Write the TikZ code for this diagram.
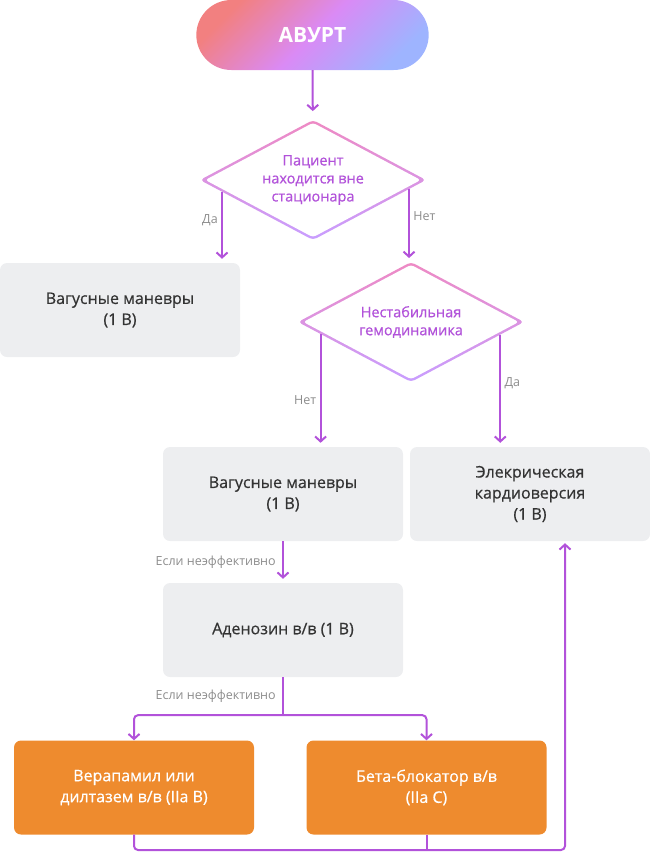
\documentclass[tikz,border=0pt]{standalone}
\usepackage{fontspec}
\setmainfont{Open Sans}
\newfontfamily\medfont{Open Sans}[FakeBold=0.6]
\usepackage{tikz}
\usetikzlibrary{shapes.geometric}
\usetikzlibrary{shapes.misc}
\usetikzlibrary{calc}
\usetikzlibrary{backgrounds}
\usetikzlibrary{positioning}
\usetikzlibrary{arrows.meta}
\definecolor{flowpurple}{RGB}{178,82,218}
\definecolor{boxgray}{RGB}{237,238,240}
\definecolor{boxtext}{RGB}{51,51,51}
\definecolor{labelgray}{RGB}{140,140,140}
\definecolor{boxorange}{RGB}{238,139,46}
\definecolor{pillsalmon}{RGB}{242,128,128}
\definecolor{pillpink}{RGB}{218,138,245}
\definecolor{pillblue}{RGB}{158,180,255}
\definecolor{ringpink}{RGB}{238,138,196}
\definecolor{ringlilac}{RGB}{200,158,255}
\tikzset{
	graybox/.style={rectangle,rounded corners=7pt,fill=boxgray,minimum width=240pt,minimum height=94pt,align=center,text=boxtext,font=\medfont\fontsize{16}{21}\selectfont},
	orangebox/.style={graybox,fill=boxorange,text=white},
	startpill/.style={rounded rectangle,minimum width=239pt,minimum height=70pt,top color=pillsalmon,bottom color=pillblue,middle color=pillpink,shading angle=45,text=white,font=\fontsize{21}{25}\selectfont\bfseries},
	decision/.style={diamond,minimum width=226pt,minimum height=120pt,aspect=1.9,inner sep=0pt,outer sep=0pt,align=center,text=flowpurple,font=\medfont\fontsize{14.5}{18}\selectfont},
	flow/.style={draw=flowpurple,line width=2pt,-{Straight Barb[length=5pt,width=11pt]}},
	line/.style={draw=flowpurple,line width=2pt},
	lbl/.style={text=labelgray,font=\fontsize{12.5}{15}\selectfont}
}
\newcommand\decisionring[1]{
	\begin{pgfonlayer}{background}
		\shade[top color=ringpink,bottom color=ringlilac,rounded corners=4pt] (#1.north) -- (#1.east) -- (#1.south) -- (#1.west) -- cycle;
		\fill[white,rounded corners=3pt] ($(#1.north)+(0,2.8)$) -- ($(#1.east)+(-5.3,0)$) -- ($(#1.south)+(0,-2.8)$) -- ($(#1.west)+(5.3,0)$) -- cycle;
	\end{pgfonlayer}
}
\begin{document}
\begin{tikzpicture}[x=1pt,y=-1pt]
	\useasboundingbox (0,0) rectangle (650,852);
	\node[startpill] (avrt) at (312.5,35) {АВУРТ};
	\node[decision] (outside) at (313,180) {Пациент\\находится вне\\стационара};
	\decisionring{outside}
	\node[graybox] (vagal1) at (120,310) {Вагусные маневры\\(1 B)};
	\node[decision] (unstable) at (411,322) {Нестабильная\\гемодинамика};
	\decisionring{unstable}
	\node[graybox] (vagal2) at (283,494) {Вагусные маневры\\(1 B)};
	\node[graybox] (cardio) at (530,494) {Элекрическая\\кардиоверсия\\(1 B)};
	\node[graybox] (adeno) at (283,630) {Аденозин в/в (1 B)};
	\node[orangebox] (verap) at (134,787.5) {Верапамил или\\дилтазем в/в (IIa B)};
	\node[orangebox] (beta) at (426.5,787.5) {Бета-блокатор в/в\\(IIa C)};
	\coordinate (outsideyes) at ($(outside.west)!0.195!(outside.south)$);
	\coordinate (outsideno) at ($(outside.east)!0.15!(outside.south)$);
	\coordinate (unstableno) at ($(unstable.west)!0.2!(unstable.south)$);
	\coordinate (unstableyes) at ($(unstable.east)!0.21!(unstable.south)$);
	\coordinate (split) at ($(adeno.south)+(0,38)$);
	\coordinate (loop) at (565,850);
	\draw[flow,shorten >=9pt] (avrt) -- (outside);
	\draw[flow,shorten >=4pt] (outsideyes) -- node[lbl,left,pos=0.4] {Да} (outsideyes |- vagal1.north);
	\draw[flow,shorten >=4pt] (outsideno) -- node[lbl,right,pos=0.37] {Нет} (outsideno |- unstable.north);
	\draw[flow,shorten >=4pt] (unstableno) -- node[lbl,left,pos=0.59] {Нет} (unstableno |- vagal2.north);
	\draw[flow,shorten >=4pt] (unstableyes) -- node[lbl,right,pos=0.43] {Да} (unstableyes |- cardio.north);
	\draw[flow,shorten >=4pt] (vagal2) -- node[lbl,left=3pt] {Если неэффективно} (adeno);
	\draw[line] (adeno) -- node[lbl,left=3pt] {Если неэффективно} (split);
	\draw[flow,rounded corners=4pt] (split) -| (verap.north);
	\draw[flow,rounded corners=4pt] (split) -| (beta.north);
	\draw[flow,rounded corners=4pt,shorten >=2pt] (verap.south) |- (loop) -- (loop |- cardio.south);
	\draw[line] (beta.south) -- (beta.south |- loop);
\end{tikzpicture}
\end{document}
